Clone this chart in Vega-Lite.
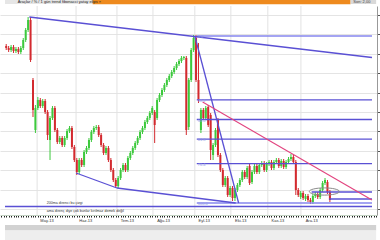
{
  "$schema": "https://vega.github.io/schema/vega-lite/v6.json",
  "width": 377,
  "height": 209,
  "autosize": {"type": "none"},
  "padding": {"left": 0, "top": 6, "right": 3, "bottom": 25},
  "background": "white",
  "config": {
    "view": {"stroke": null},
    "font": "Liberation Sans",
    "axis": {"labelFont": "Liberation Sans"}
  },
  "resolve": {"axis": {"x": "independent", "y": "independent"}},
  "datasets": {
    "mumlar": [
      {"i":0,"o":3.54,"h":3.56,"l":3.50,"c":3.52},
      {"i":1,"o":3.52,"h":3.54,"l":3.48,"c":3.50},
      {"i":2,"o":3.50,"h":3.55,"l":3.48,"c":3.53},
      {"i":3,"o":3.53,"h":3.55,"l":3.47,"c":3.49},
      {"i":4,"o":3.49,"h":3.53,"l":3.47,"c":3.51},
      {"i":5,"o":3.51,"h":3.53,"l":3.46,"c":3.48},
      {"i":6,"o":3.48,"h":3.54,"l":3.46,"c":3.52},
      {"i":7,"o":3.52,"h":3.62,"l":3.50,"c":3.60},
      {"i":8,"o":3.60,"h":3.72,"l":3.58,"c":3.70},
      {"i":9,"o":3.70,"h":3.83,"l":3.68,"c":3.80},
      {"i":10,"o":3.80,"h":3.83,"l":3.38,"c":3.40},
      {"i":11,"o":3.20,"h":3.22,"l":2.83,"c":2.90},
      {"i":12,"o":2.70,"h":2.95,"l":2.67,"c":2.92},
      {"i":13,"o":2.92,"h":3.03,"l":2.90,"c":3.00},
      {"i":14,"o":3.00,"h":3.02,"l":2.92,"c":2.94},
      {"i":15,"o":2.94,"h":3.01,"l":2.92,"c":2.99},
      {"i":16,"o":2.99,"h":3.01,"l":2.86,"c":2.88},
      {"i":17,"o":2.88,"h":2.90,"l":2.60,"c":2.65},
      {"i":18,"o":2.60,"h":2.84,"l":2.40,"c":2.82},
      {"i":19,"o":2.82,"h":2.94,"l":2.80,"c":2.92},
      {"i":20,"o":2.92,"h":2.94,"l":2.68,"c":2.70},
      {"i":21,"o":2.70,"h":2.72,"l":2.56,"c":2.58},
      {"i":22,"o":2.58,"h":2.64,"l":2.56,"c":2.62},
      {"i":23,"o":2.62,"h":2.64,"l":2.53,"c":2.55},
      {"i":24,"o":2.55,"h":2.64,"l":2.53,"c":2.62},
      {"i":25,"o":2.62,"h":2.71,"l":2.60,"c":2.69},
      {"i":26,"o":2.69,"h":2.74,"l":2.67,"c":2.72},
      {"i":27,"o":2.72,"h":2.74,"l":2.51,"c":2.53},
      {"i":28,"o":2.53,"h":2.55,"l":2.38,"c":2.40},
      {"i":29,"o":2.40,"h":2.42,"l":2.25,"c":2.28},
      {"i":30,"o":2.28,"h":2.42,"l":2.26,"c":2.40},
      {"i":31,"o":2.40,"h":2.42,"l":2.33,"c":2.35},
      {"i":32,"o":2.35,"h":2.50,"l":2.33,"c":2.48},
      {"i":33,"o":2.48,"h":2.54,"l":2.46,"c":2.52},
      {"i":34,"o":2.52,"h":2.62,"l":2.50,"c":2.60},
      {"i":35,"o":2.60,"h":2.70,"l":2.58,"c":2.68},
      {"i":36,"o":2.68,"h":2.74,"l":2.66,"c":2.72},
      {"i":37,"o":2.72,"h":2.75,"l":2.70,"c":2.73},
      {"i":38,"o":2.73,"h":2.75,"l":2.63,"c":2.65},
      {"i":39,"o":2.65,"h":2.67,"l":2.53,"c":2.55},
      {"i":40,"o":2.55,"h":2.57,"l":2.45,"c":2.47},
      {"i":41,"o":2.47,"h":2.54,"l":2.45,"c":2.52},
      {"i":42,"o":2.52,"h":2.54,"l":2.38,"c":2.40},
      {"i":43,"o":2.40,"h":2.42,"l":2.28,"c":2.30},
      {"i":44,"o":2.30,"h":2.32,"l":2.18,"c":2.20},
      {"i":45,"o":2.20,"h":2.22,"l":2.12,"c":2.14},
      {"i":46,"o":2.14,"h":2.24,"l":2.12,"c":2.22},
      {"i":47,"o":2.22,"h":2.32,"l":2.20,"c":2.30},
      {"i":48,"o":2.30,"h":2.37,"l":2.28,"c":2.35},
      {"i":49,"o":2.35,"h":2.37,"l":2.28,"c":2.30},
      {"i":50,"o":2.30,"h":2.44,"l":2.28,"c":2.42},
      {"i":51,"o":2.42,"h":2.49,"l":2.40,"c":2.47},
      {"i":52,"o":2.47,"h":2.54,"l":2.45,"c":2.52},
      {"i":53,"o":2.52,"h":2.59,"l":2.50,"c":2.57},
      {"i":54,"o":2.57,"h":2.64,"l":2.55,"c":2.62},
      {"i":55,"o":2.62,"h":2.70,"l":2.60,"c":2.68},
      {"i":56,"o":2.68,"h":2.74,"l":2.66,"c":2.72},
      {"i":57,"o":2.72,"h":2.80,"l":2.70,"c":2.78},
      {"i":58,"o":2.78,"h":2.84,"l":2.76,"c":2.82},
      {"i":59,"o":2.82,"h":2.89,"l":2.80,"c":2.87},
      {"i":60,"o":2.87,"h":2.94,"l":2.85,"c":2.92},
      {"i":61,"o":2.88,"h":2.90,"l":2.57,"c":2.75},
      {"i":62,"o":2.82,"h":3.02,"l":2.80,"c":3.00},
      {"i":63,"o":3.00,"h":3.07,"l":2.98,"c":3.05},
      {"i":64,"o":3.05,"h":3.12,"l":3.03,"c":3.10},
      {"i":65,"o":3.10,"h":3.17,"l":3.08,"c":3.15},
      {"i":66,"o":3.15,"h":3.22,"l":3.13,"c":3.20},
      {"i":67,"o":3.20,"h":3.26,"l":3.18,"c":3.24},
      {"i":68,"o":3.24,"h":3.30,"l":3.22,"c":3.28},
      {"i":69,"o":3.28,"h":3.34,"l":3.26,"c":3.32},
      {"i":70,"o":3.32,"h":3.38,"l":3.30,"c":3.36},
      {"i":71,"o":3.36,"h":3.41,"l":3.34,"c":3.39},
      {"i":72,"o":3.39,"h":3.44,"l":3.37,"c":3.42},
      {"i":73,"o":3.42,"h":3.44,"l":3.40,"c":3.43},
      {"i":74,"o":3.42,"h":3.44,"l":2.65,"c":2.70},
      {"i":75,"o":2.73,"h":3.22,"l":2.70,"c":3.20},
      {"i":76,"o":3.20,"h":3.52,"l":3.18,"c":3.50},
      {"i":77,"o":3.50,"h":3.65,"l":3.48,"c":3.62},
      {"i":78,"o":3.62,"h":3.65,"l":3.18,"c":3.20},
      {"i":79,"o":3.20,"h":3.57,"l":2.97,"c":3.00},
      {"i":80,"o":2.70,"h":2.92,"l":2.67,"c":2.90},
      {"i":81,"o":2.90,"h":2.92,"l":2.80,"c":2.82},
      {"i":82,"o":2.82,"h":2.94,"l":2.80,"c":2.92},
      {"i":83,"o":2.93,"h":2.95,"l":2.73,"c":2.75},
      {"i":84,"o":2.85,"h":2.87,"l":2.40,"c":2.50},
      {"i":85,"o":2.45,"h":2.57,"l":2.40,"c":2.55},
      {"i":86,"o":2.55,"h":2.72,"l":2.53,"c":2.70},
      {"i":87,"o":2.80,"h":2.82,"l":2.43,"c":2.45},
      {"i":88,"o":2.45,"h":2.47,"l":2.28,"c":2.30},
      {"i":89,"o":2.30,"h":2.32,"l":2.13,"c":2.15},
      {"i":90,"o":2.15,"h":2.24,"l":2.13,"c":2.22},
      {"i":91,"o":2.22,"h":2.24,"l":2.03,"c":2.05},
      {"i":92,"o":2.05,"h":2.14,"l":2.03,"c":2.12},
      {"i":93,"o":2.12,"h":2.14,"l":1.99,"c":2.02},
      {"i":94,"o":2.02,"h":2.12,"l":1.99,"c":2.10},
      {"i":95,"o":2.10,"h":2.17,"l":2.08,"c":2.15},
      {"i":96,"o":2.15,"h":2.22,"l":2.13,"c":2.20},
      {"i":97,"o":2.20,"h":2.30,"l":2.18,"c":2.28},
      {"i":98,"o":2.28,"h":2.30,"l":2.21,"c":2.23},
      {"i":99,"o":2.23,"h":2.34,"l":2.21,"c":2.32},
      {"i":100,"o":2.34,"h":2.36,"l":2.15,"c":2.17},
      {"i":101,"o":2.18,"h":2.30,"l":2.16,"c":2.28},
      {"i":102,"o":2.28,"h":2.36,"l":2.26,"c":2.34},
      {"i":103,"o":2.34,"h":2.36,"l":2.26,"c":2.28},
      {"i":104,"o":2.28,"h":2.37,"l":2.26,"c":2.35},
      {"i":105,"o":2.35,"h":2.39,"l":2.33,"c":2.37},
      {"i":106,"o":2.37,"h":2.39,"l":2.28,"c":2.30},
      {"i":107,"o":2.30,"h":2.38,"l":2.28,"c":2.36},
      {"i":108,"o":2.36,"h":2.40,"l":2.34,"c":2.38},
      {"i":109,"o":2.38,"h":2.40,"l":2.30,"c":2.32},
      {"i":110,"o":2.32,"h":2.40,"l":2.30,"c":2.38},
      {"i":111,"o":2.38,"h":2.42,"l":2.36,"c":2.40},
      {"i":112,"o":2.40,"h":2.42,"l":2.32,"c":2.34},
      {"i":113,"o":2.34,"h":2.41,"l":2.32,"c":2.39},
      {"i":114,"o":2.39,"h":2.41,"l":2.31,"c":2.33},
      {"i":115,"o":2.33,"h":2.40,"l":2.31,"c":2.38},
      {"i":116,"o":2.38,"h":2.43,"l":2.36,"c":2.41},
      {"i":117,"o":2.41,"h":2.46,"l":2.39,"c":2.43},
      {"i":118,"o":2.43,"h":2.45,"l":2.36,"c":2.38},
      {"i":119,"o":2.38,"h":2.40,"l":2.05,"c":2.10},
      {"i":120,"o":2.10,"h":2.12,"l":2.03,"c":2.05},
      {"i":121,"o":2.03,"h":2.09,"l":2.01,"c":2.07},
      {"i":122,"o":2.07,"h":2.09,"l":2.00,"c":2.02},
      {"i":123,"o":2.01,"h":2.06,"l":1.99,"c":2.04},
      {"i":124,"o":2.04,"h":2.06,"l":1.98,"c":2.00},
      {"i":125,"o":2.00,"h":2.02,"l":1.96,"c":1.98},
      {"i":126,"o":1.98,"h":2.06,"l":1.96,"c":2.04},
      {"i":127,"o":2.04,"h":2.08,"l":2.02,"c":2.06},
      {"i":128,"o":2.06,"h":2.08,"l":2.01,"c":2.03},
      {"i":129,"o":2.03,"h":2.12,"l":2.01,"c":2.10},
      {"i":130,"o":2.10,"h":2.19,"l":2.08,"c":2.17},
      {"i":131,"o":2.17,"h":2.22,"l":2.15,"c":2.20},
      {"i":132,"o":2.18,"h":2.20,"l":2.06,"c":2.08},
      {"i":133,"o":2.08,"h":2.10,"l":1.98,"c":2.00}
    ],
    "aylar": [
      {"i":12.7,"ay":"May-13"},
      {"i":28.7,"ay":"Haz-13"},
      {"i":45.5,"ay":"Tem-13"},
      {"i":60.3,"ay":"Ağu-13"},
      {"i":77.5,"ay":"Eyl-13"},
      {"i":92.3,"ay":"Eki-13"},
      {"i":107.5,"ay":"Kas-13"},
      {"i":121.1,"ay":"Ara-13"}
    ],
    "mavi_trendler": [
      {"i1":9.5,"p1":3.83,"i2":150.3,"p2":3.425},
      {"i1":28.7,"p1":2.27,"i2":45.5,"p2":2.12},
      {"i1":45.5,"p1":2.12,"i2":94.3,"p2":1.97},
      {"i1":77.5,"p1":3.64,"i2":95.5,"p2":1.97}
    ],
    "pembe_trend": [
      {"i1":80.7,"p1":2.98,"i2":150.3,"p2":2.00}
    ],
    "fibo": [
      {"seviye":"0.0","fiyat":3.64,"bas":78.3,"son":150.3},
      {"seviye":"38.2","fiyat":3.002,"bas":78.3,"son":150.3},
      {"seviye":"50.0","fiyat":2.805,"bas":78.3,"son":150.3},
      {"seviye":"61.8","fiyat":2.608,"bas":78.3,"son":150.3},
      {"seviye":"76.4","fiyat":2.364,"bas":78.3,"son":150.3},
      {"seviye":"100.0","fiyat":1.97,"bas":78.3,"son":150.3}
    ],
    "yataylar": [
      {"ad":"destek","fiyat":1.935,"bas":-0.5,"son":150.3},
      {"ad":"kısa 1","fiyat":2.08,"bas":125.5,"son":150.3},
      {"ad":"kısa 2","fiyat":2.01,"bas":132.7,"son":150.3}
    ],
    "elips": [
      {"i":130.7,"fiyat":2.085}
    ],
    "notlar": [
      {"not":"200ma direnci bu çizgi","i":16.7,"fiyat":1.975},
      {"not":"ama direnç diye çok bunlar kırılmaz demek değil","i":16.7,"fiyat":1.895}
    ]
  },
  "layer": [
    {
      "data": {"values": [{"bant":"üst"}]},
      "mark": {"type": "rect", "color": "#e6e6e6"},
      "encoding": {
        "x": {"datum": -0.5, "type": "quantitative", "scale": {"domain": [-0.5, 150.3], "nice": false, "zero": false}, "axis": null},
        "x2": {"datum": 35.5},
        "y": {"datum": 4.0, "type": "quantitative", "scale": {"domain": [1.85, 3.94], "nice": false, "zero": false}, "axis": null},
        "y2": {"datum": 3.96}
      }
    },
    {
      "data": {"values": [{"bant":"turuncu"}]},
      "mark": {"type": "rect", "color": "#ee8a1e"},
      "encoding": {
        "x": {"datum": 35.5, "type": "quantitative", "scale": {"domain": [-0.5, 150.3], "nice": false, "zero": false}, "axis": null},
        "x2": {"datum": 141.5},
        "y": {"datum": 4.0, "type": "quantitative", "scale": {"domain": [1.85, 3.94], "nice": false, "zero": false}, "axis": null},
        "y2": {"datum": 3.957}
      }
    },
    {
      "data": {"values": [{"bant":"sağ kutu"}]},
      "mark": {"type": "rect", "color": "#d9d9d9"},
      "encoding": {
        "x": {"datum": 141.5, "type": "quantitative", "scale": {"domain": [-0.5, 150.3], "nice": false, "zero": false}, "axis": null},
        "x2": {"datum": 152},
        "y": {"datum": 4.0, "type": "quantitative", "scale": {"domain": [1.85, 3.94], "nice": false, "zero": false}, "axis": null},
        "y2": {"datum": 3.96}
      }
    },
    {
      "data": {"values": [{"metin":"Araçlar / % / 1 gün  trend  fibonacci  yatay  elips  ×"}]},
      "mark": {"type": "text", "align": "left", "baseline": "middle", "fontSize": 4, "color": "#222"},
      "encoding": {
        "x": {"datum": 4.7, "type": "quantitative", "scale": {"domain": [-0.5, 150.3], "nice": false, "zero": false}, "axis": null},
        "y": {"datum": 3.98, "type": "quantitative", "scale": {"domain": [1.85, 3.94], "nice": false, "zero": false}, "axis": null},
        "text": {"field": "metin"}
      }
    },
    {
      "data": {"values": [{"metin":"Son: 2,00"}]},
      "mark": {"type": "text", "align": "left", "baseline": "middle", "fontSize": 4, "color": "#444"},
      "encoding": {
        "x": {"datum": 142.6, "type": "quantitative", "scale": {"domain": [-0.5, 150.3], "nice": false, "zero": false}, "axis": null},
        "y": {"datum": 3.98, "type": "quantitative", "scale": {"domain": [1.85, 3.94], "nice": false, "zero": false}, "axis": null},
        "text": {"field": "metin"}
      }
    },
    {
      "data": {"values": [{"bant":"alt"}]},
      "mark": {"type": "rect", "color": "#d2d2d2"},
      "encoding": {
        "x": {"datum": -0.5, "type": "quantitative", "scale": {"domain": [-0.5, 150.3], "nice": false, "zero": false}, "axis": null},
        "x2": {"datum": 152},
        "y": {"datum": 1.75, "type": "quantitative", "scale": {"domain": [1.85, 3.94], "nice": false, "zero": false}, "axis": null},
        "y2": {"datum": 1.695}
      }
    },
    {
      "data": {"values": [{"bant":"alt açık"}]},
      "mark": {"type": "rect", "color": "#eeeeee"},
      "encoding": {
        "x": {"datum": -0.5, "type": "quantitative", "scale": {"domain": [-0.5, 150.3], "nice": false, "zero": false}, "axis": null},
        "x2": {"datum": 152},
        "y": {"datum": 1.695, "type": "quantitative", "scale": {"domain": [1.85, 3.94], "nice": false, "zero": false}, "axis": null},
        "y2": {"datum": 1.6}
      }
    },
    {
      "data": {"name": "aylar"},
      "mark": {"type": "rule", "color": "#e2e2e2", "strokeWidth": 1},
      "encoding": {
        "x": {"field": "i", "type": "quantitative", "scale": {"domain": [-0.5, 150.3], "nice": false, "zero": false}, "axis": null}
      }
    },
    {
      "data": {"name": "mumlar"},
      "mark": {"type": "rule", "strokeWidth": 1},
      "encoding": {
        "x": {
          "field": "i", "type": "quantitative",
          "scale": {"domain": [-0.5, 150.3], "nice": false, "zero": false},
          "axis": {
            "title": null, "grid": false, "tickCount": 150, "tickSize": 2, "tickColor": "#222",
            "domainColor": "#c2d2c2", "labelFontSize": 4, "labelAlign": "left", "labelOffset": 2,
            "labelPadding": 1, "labelColor": "#333", "labelOverlap": false, "labelFlush": false,
            "labelExpr": "datum.value===13?'May-13':datum.value===29?'Haz-13':datum.value===46?'Tem-13':datum.value===61?'Ağu-13':datum.value===78?'Eyl-13':datum.value===93?'Eki-13':datum.value===108?'Kas-13':datum.value===122?'Ara-13':''"
          }
        },
        "y": {
          "field": "l", "type": "quantitative",
          "scale": {"domain": [1.85, 3.94], "nice": false, "zero": false},
          "axis": {
            "orient": "right", "title": null, "labels": false, "tickSize": 3, "tickColor": "#555",
            "values": [1.91, 2.104, 2.298, 2.492, 2.686, 2.88, 3.074, 3.268, 3.462, 3.656, 3.85],
            "grid": true, "gridColor": "#e4e4e4", "domainColor": "#999"
          }
        },
        "y2": {"field": "h"},
        "color": {"condition": {"test": "datum.c >= datum.o", "value": "#3cc93c"}, "value": "#d32a2f"}
      }
    },
    {
      "data": {"name": "mumlar"},
      "mark": {"type": "bar", "size": 2},
      "encoding": {
        "x": {"field": "i", "type": "quantitative", "scale": {"domain": [-0.5, 150.3], "nice": false, "zero": false}, "axis": null},
        "y": {"field": "o", "type": "quantitative", "scale": {"domain": [1.85, 3.94], "nice": false, "zero": false}, "axis": null},
        "y2": {"field": "c"},
        "color": {"condition": {"test": "datum.c >= datum.o", "value": "#3cc93c"}, "value": "#d32a2f"}
      }
    },
    {
      "data": {"name": "fibo"},
      "mark": {"type": "rule", "strokeWidth": 1.3},
      "encoding": {
        "x": {"field": "bas", "type": "quantitative", "scale": {"domain": [-0.5, 150.3], "nice": false, "zero": false}, "axis": null},
        "x2": {"field": "son"},
        "y": {"field": "fiyat", "type": "quantitative", "scale": {"domain": [1.85, 3.94], "nice": false, "zero": false}, "axis": null},
        "color": {"condition": {"test": "datum.seviye === '0.0' || datum.seviye === '100.0'", "value": "#8686ee"}, "value": "#5a50d4"}
      }
    },
    {
      "data": {"name": "yataylar"},
      "mark": {"type": "rule", "strokeWidth": 1.3, "color": "#5a50d4"},
      "encoding": {
        "x": {"field": "bas", "type": "quantitative", "scale": {"domain": [-0.5, 150.3], "nice": false, "zero": false}, "axis": null},
        "x2": {"field": "son"},
        "y": {"field": "fiyat", "type": "quantitative", "scale": {"domain": [1.85, 3.94], "nice": false, "zero": false}, "axis": null}
      }
    },
    {
      "data": {"name": "mavi_trendler"},
      "mark": {"type": "rule", "strokeWidth": 1.3, "color": "#5a50d4"},
      "encoding": {
        "x": {"field": "i1", "type": "quantitative", "scale": {"domain": [-0.5, 150.3], "nice": false, "zero": false}, "axis": null},
        "x2": {"field": "i2"},
        "y": {"field": "p1", "type": "quantitative", "scale": {"domain": [1.85, 3.94], "nice": false, "zero": false}, "axis": null},
        "y2": {"field": "p2"}
      }
    },
    {
      "data": {"name": "pembe_trend"},
      "mark": {"type": "rule", "strokeWidth": 1.1, "color": "#e2447f"},
      "encoding": {
        "x": {"field": "i1", "type": "quantitative", "scale": {"domain": [-0.5, 150.3], "nice": false, "zero": false}, "axis": null},
        "x2": {"field": "i2"},
        "y": {"field": "p1", "type": "quantitative", "scale": {"domain": [1.85, 3.94], "nice": false, "zero": false}, "axis": null},
        "y2": {"field": "p2"}
      }
    },
    {
      "data": {"name": "elips"},
      "mark": {"type": "point", "shape": "M-1,0A1,0.24,0,1,1,1,0A1,0.24,0,1,1,-1,0Z", "size": 900, "filled": false, "stroke": "#8c8c8c", "strokeWidth": 1, "opacity": 1},
      "encoding": {
        "x": {"field": "i", "type": "quantitative", "scale": {"domain": [-0.5, 150.3], "nice": false, "zero": false}, "axis": null},
        "y": {"field": "fiyat", "type": "quantitative", "scale": {"domain": [1.85, 3.94], "nice": false, "zero": false}, "axis": null}
      }
    },
    {
      "data": {"name": "fibo"},
      "mark": {"type": "text", "align": "left", "baseline": "middle", "fontSize": 4, "dx": 1, "dy": 1, "color": "#8d98e6"},
      "encoding": {
        "x": {"field": "bas", "type": "quantitative", "scale": {"domain": [-0.5, 150.3], "nice": false, "zero": false}, "axis": null},
        "y": {"field": "fiyat", "type": "quantitative", "scale": {"domain": [1.85, 3.94], "nice": false, "zero": false}, "axis": null},
        "text": {"field": "seviye"}
      }
    },
    {
      "data": {"name": "notlar"},
      "mark": {"type": "text", "align": "left", "baseline": "middle", "fontSize": 3.6, "color": "#333"},
      "encoding": {
        "x": {"field": "i", "type": "quantitative", "scale": {"domain": [-0.5, 150.3], "nice": false, "zero": false}, "axis": null},
        "y": {"field": "fiyat", "type": "quantitative", "scale": {"domain": [1.85, 3.94], "nice": false, "zero": false}, "axis": null},
        "text": {"field": "not"}
      }
    }
  ]
}
